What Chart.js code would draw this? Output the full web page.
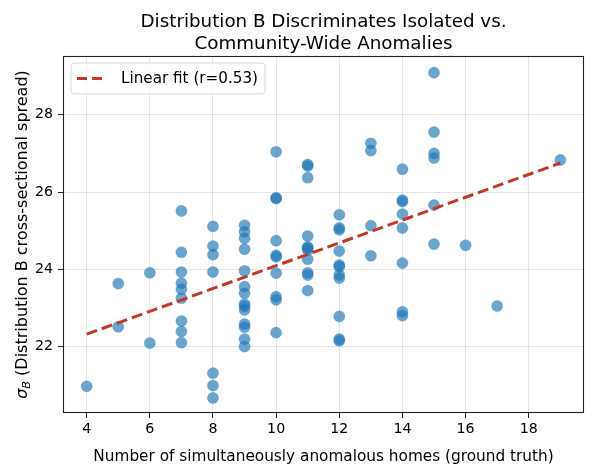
<!DOCTYPE html>
<html>
<head>
<meta charset="utf-8">
<script src="https://cdn.jsdelivr.net/npm/chart.js@4.4.1/dist/chart.umd.min.js"></script>
<style>
html,body{margin:0;padding:0;background:#fff;}
canvas{display:block;}
</style>
</head>
<body>
<canvas id="c" width="594" height="475"></canvas>
<script>
const anomalousHomes = [
  4,
  5,5,
  6,6,
  7,7,7,7,7,7,7,7,7,
  8,8,8,8,8,8,8,
  9,9,9,9,9,9,9,9,9,9,9,9,9,9,
  10,10,10,10,10,10,10,10,10,10,
  11,11,11,11,11,11,11,11,11,11,11,
  12,12,12,12,12,12,12,12,12,12,12,
  13,13,13,13,
  14,14,14,14,14,14,14,14,
  15,15,15,15,15,15,
  16,17,19
];
const sigmaB = [
  20.97,
  23.63,22.51,
  23.91,22.09,
  25.51,24.44,23.93,23.64,23.48,23.25,22.66,22.39,22.10,
  25.11,24.60,24.38,23.93,21.31,20.99,20.67,
  25.14,24.97,24.80,24.52,23.96,23.55,23.38,23.10,23.04,22.95,22.58,22.50,22.19,22.00,
  27.04,25.85,25.83,24.74,24.36,24.32,23.90,23.29,23.21,22.36,
  26.71,26.67,26.37,24.86,24.58,24.55,24.50,24.26,23.91,23.85,23.45,
  25.41,25.07,25.02,24.47,24.11,24.07,23.85,23.77,22.78,22.19,22.15,
  27.26,27.07,25.13,24.35,
  26.59,25.79,25.75,25.43,25.07,24.16,22.90,22.80,
  29.09,27.55,27.00,26.88,25.66,24.65,
  24.62,23.05,26.83
];
const fitX = [4, 19];
const fitY = [22.32, 26.75];
const xTicks = [4, 6, 8, 10, 12, 14, 16, 18];
const yTicks = [22, 24, 26, 28];
const titleLines = ["Distribution B Discriminates Isolated vs.", "Community-Wide Anomalies"];
const xLabel = "Number of simultaneously anomalous homes (ground truth)";
const yLabelRest = " (Distribution B cross-sectional spread)";
const legendLabel = "Linear fit (r=0.53)";

const FONT = '"DejaVu Sans", sans-serif';
const RED = '#c0392b';

const textPlugin = {
  id: 'texts',
  afterDraw(chart) {
    const ctx = chart.ctx;
    const a = chart.chartArea;
    ctx.save();
    // frame
    ctx.strokeStyle = '#222';
    ctx.lineWidth = 1.1;
    ctx.strokeRect(a.left + 0.5, a.top + 0.5, a.right - a.left - 1, a.bottom - a.top - 1);
    // title
    const cx = (a.left + a.right) / 2;
    ctx.fillStyle = '#000';
    ctx.textAlign = 'center';
    ctx.textBaseline = 'alphabetic';
    ctx.font = '18.3px ' + FONT;
    ctx.fillText(titleLines[0], cx, 26.5);
    ctx.fillText(titleLines[1], cx, 48.5);
    // x label
    ctx.font = '15.3px ' + FONT;
    ctx.fillText(xLabel, cx, 461);
    // y label with subscript
    const cy = (a.top + a.bottom) / 2;
    ctx.save();
    ctx.translate(26.5, cy);
    ctx.rotate(-Math.PI / 2);
    ctx.textAlign = 'left';
    const fs = 16;
    const fSig = 'italic ' + fs + 'px ' + FONT;
    const fSub = 'italic ' + (fs * 0.7).toFixed(1) + 'px ' + FONT;
    const fRest = fs + 'px ' + FONT;
    ctx.font = fSig; const w1 = ctx.measureText('σ').width;
    ctx.font = fSub; const w2 = ctx.measureText('B').width;
    ctx.font = fRest; const w3 = ctx.measureText(yLabelRest).width;
    let x0 = -(w1 + w2 + w3) / 2;
    ctx.font = fSig; ctx.fillText('σ', x0, 0); x0 += w1;
    ctx.font = fSub; ctx.fillText('B', x0, 3); x0 += w2;
    ctx.font = fRest; ctx.fillText(yLabelRest, x0, 0);
    ctx.restore();
    // legend
    const lx = 71, ly = 63, lw = 194, lh = 31, r = 4;
    ctx.beginPath();
    ctx.moveTo(lx + r, ly);
    ctx.arcTo(lx + lw, ly, lx + lw, ly + lh, r);
    ctx.arcTo(lx + lw, ly + lh, lx, ly + lh, r);
    ctx.arcTo(lx, ly + lh, lx, ly, r);
    ctx.arcTo(lx, ly, lx + lw, ly, r);
    ctx.closePath();
    ctx.fillStyle = 'rgba(255,255,255,0.8)';
    ctx.fill();
    ctx.strokeStyle = '#d6d6d6';
    ctx.lineWidth = 1;
    ctx.stroke();
    ctx.beginPath();
    ctx.setLineDash([10, 5]);
    ctx.strokeStyle = RED;
    ctx.lineWidth = 3;
    ctx.moveTo(77, 78.5);
    ctx.lineTo(107, 78.5);
    ctx.stroke();
    ctx.setLineDash([]);
    ctx.fillStyle = '#000';
    ctx.font = '15.2px ' + FONT;
    ctx.textAlign = 'left';
    ctx.textBaseline = 'middle';
    ctx.fillText(legendLabel, 121, 79);
    ctx.restore();
  }
};

const points = anomalousHomes.map((x, i) => ({ x: x, y: sigmaB[i] }));
const fitPoints = fitX.map((x, i) => ({ x: x, y: fitY[i] }));

new Chart(document.getElementById('c'), {
  type: 'scatter',
  data: {
    datasets: [
      {
        type: 'line',
        label: legendLabel,
        data: fitPoints,
        borderColor: RED,
        borderWidth: 3,
        borderDash: [11, 5],
        pointRadius: 0,
        fill: false,
        tension: 0
      },
      {
        label: 'points',
        data: points,
        backgroundColor: 'rgba(31,119,180,0.66)',
        borderColor: 'rgba(31,119,180,0.4)',
        borderWidth: 0.6,
        pointRadius: 5.6,
        pointHoverRadius: 5.6
      }
    ]
  },
  options: {
    responsive: false,
    animation: false,
    devicePixelRatio: 1,
    layout: { padding: { top: 56, right: 10, left: 0, bottom: 0 } },
    plugins: { legend: { display: false }, title: { display: false }, tooltip: { enabled: false } },
    scales: {
      x: {
        type: 'linear',
        min: 3.25,
        max: 19.75,
        afterBuildTicks: (s) => { s.ticks = xTicks.map(v => ({ value: v })); },
        afterFit: (s) => { s.height = 62; },
        grid: { color: 'rgba(0,0,0,0.1)', lineWidth: 1, tickColor: '#222', tickLength: 5, tickWidth: 1 },
        border: { display: false },
        ticks: { color: '#000', font: { family: FONT, size: 14.2 }, padding: 3, maxRotation: 0, autoSkip: false }
      },
      y: {
        type: 'linear',
        min: 20.28,
        max: 29.52,
        afterBuildTicks: (s) => { s.ticks = yTicks.map(v => ({ value: v })); },
        afterFit: (s) => { s.width = 63; },
        grid: { color: 'rgba(0,0,0,0.1)', lineWidth: 1, tickColor: '#222', tickLength: 5, tickWidth: 1 },
        border: { display: false },
        ticks: { color: '#000', font: { family: FONT, size: 14.2 }, padding: 5, autoSkip: false }
      }
    }
  },
  plugins: [textPlugin]
});
</script>
</body>
</html>
